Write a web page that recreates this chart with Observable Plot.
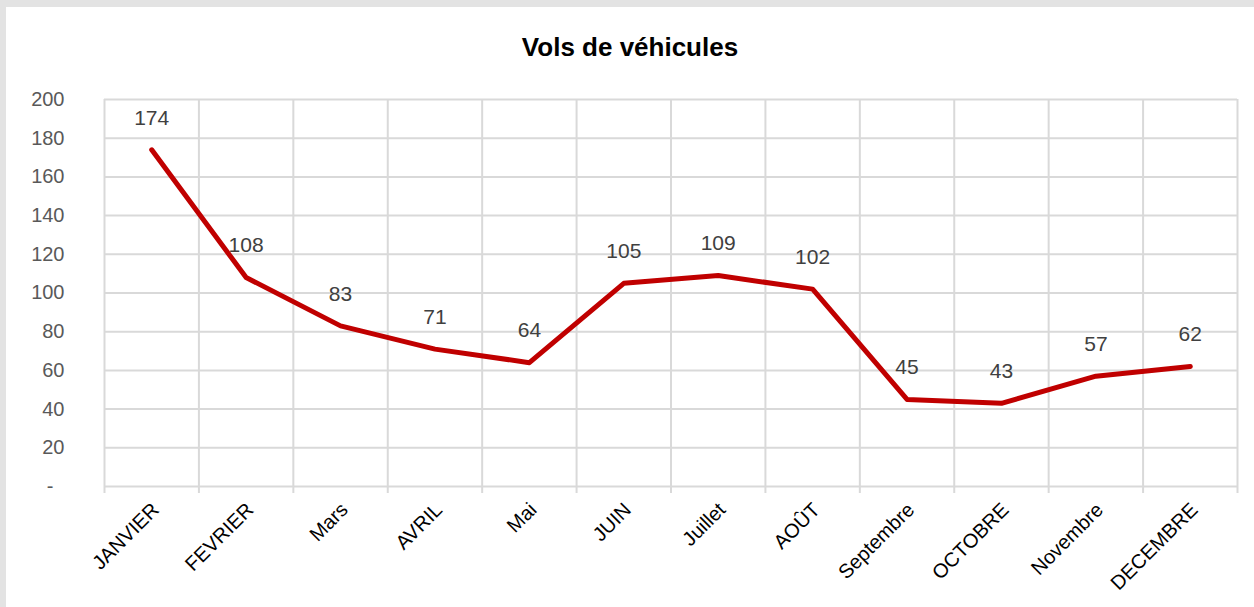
<!DOCTYPE html>
<html>
<head>
<meta charset="utf-8">
<script src="https://cdn.jsdelivr.net/npm/d3@7"></script>
<script src="https://cdn.jsdelivr.net/npm/@observablehq/plot@0.6"></script>
<style>
  html, body { margin: 0; padding: 0; background: #e3e3e3; }
  #chart { margin: 7px 0 0 6px; width: 1248px; height: 600px; background: #fff; overflow: hidden; }
  #title { height: 54px; box-sizing: border-box; padding-top: 26px; line-height: 28px; text-align: center;
           font-family: "Liberation Sans", Arial, sans-serif; font-weight: bold; font-size: 26px; color: #000; }
  svg { display: block; }
</style>
</head>
<body>
<div id="chart"><div id="title"></div></div>
<script>
const title = "Vols de véhicules";
const months = ["JANVIER", "FEVRIER", "Mars", "AVRIL", "Mai", "JUIN", "Juillet", "AOÛT", "Septembre", "OCTOBRE", "Novembre", "DECEMBRE"];
const values = [174, 108, 83, 71, 64, 105, 109, 102, 45, 43, 57, 62];
const yTicks = [0, 20, 40, 60, 80, 100, 120, 140, 160, 180, 200];

document.getElementById("title").textContent = title;

const data = months.map((m, i) => ({month: m, pos: i + 0.5, value: values[i]}));
const bounds = d3.range(months.length + 1);
const font = "Liberation Sans, Arial, sans-serif";
const grid = "#d9d9d9";

const chart = Plot.plot({
  width: 1248,
  height: 546,
  marginLeft: 98,
  marginRight: 17,
  marginTop: 38,
  marginBottom: 121,
  style: {fontFamily: font, background: "transparent"},
  x: {type: "linear", domain: [0, months.length], label: null},
  y: {domain: [0, 200], label: null},
  marks: [
    Plot.gridY(yTicks, {stroke: grid, strokeOpacity: 1, strokeWidth: 2}),
    Plot.gridX(bounds, {stroke: grid, strokeOpacity: 1, strokeWidth: 2}),
    Plot.axisX(bounds, {tickSize: 7, stroke: grid, strokeWidth: 2, tickFormat: () => "", label: null}),
    Plot.axisX(data.map(d => d.pos), {
      tickSize: 0, tickPadding: 20, tickRotate: -45, label: null,
      tickFormat: (t) => months[Math.floor(t)],
      fontSize: 20, fill: "#000", dx: 4
    }),
    Plot.axisY(yTicks, {
      tickSize: 0, tickPadding: 40, label: null,
      tickFormat: d => d === 0 ? "-\u2007" : String(d),
      fontSize: 20, fill: "#595959"
    }),
    Plot.line(data, {x: "pos", y: "value", stroke: "#c00000", strokeWidth: 5, strokeLinecap: "round", strokeLinejoin: "round"}),
    Plot.text(data, {x: "pos", y: "value", text: d => String(d.value), dy: -32, fontSize: 21, fill: "#404040"})
  ]
});
document.getElementById("chart").appendChild(chart);
</script>
</body>
</html>
